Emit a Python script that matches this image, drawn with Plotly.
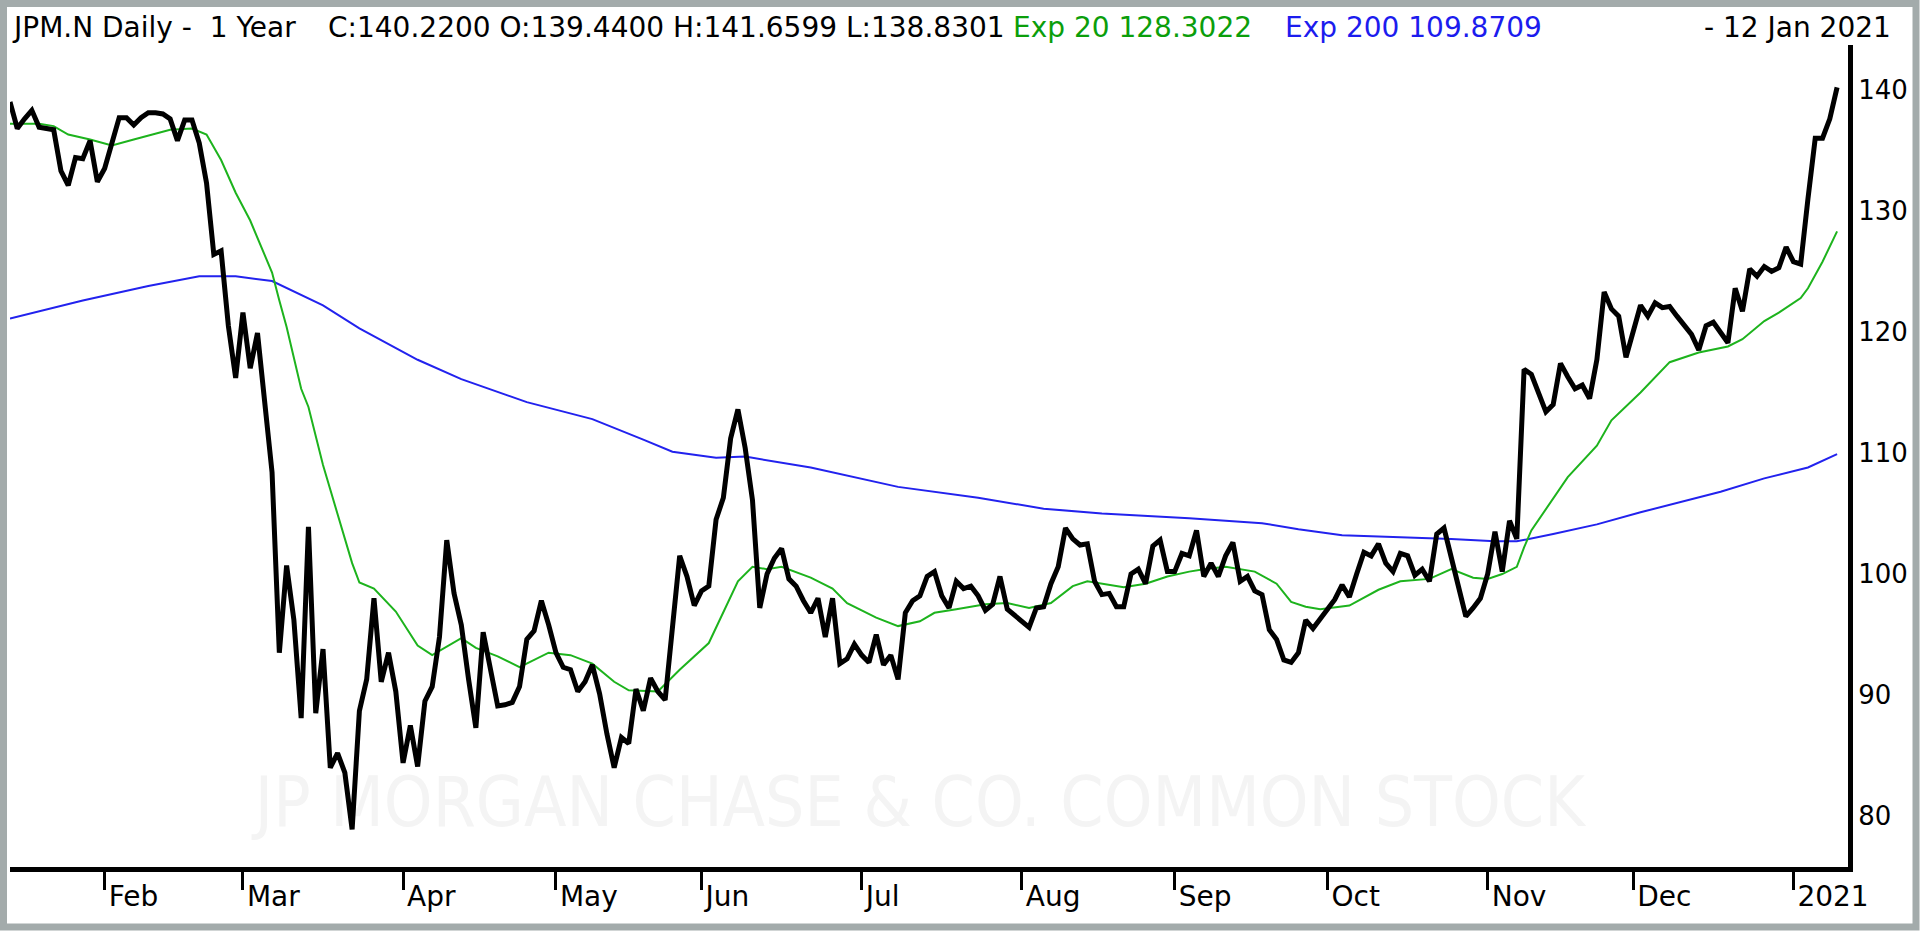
import pandas as pd
import plotly.graph_objects as go

# trading sessions 14 Jan 2020 - 12 Jan 2021 (NYSE holidays removed)
holidays = ["2020-01-20", "2020-02-17", "2020-04-10", "2020-05-25", "2020-07-03",
            "2020-09-07", "2020-11-26", "2020-12-25", "2021-01-01"]
days = pd.bdate_range("2020-01-14", "2021-01-12")
days = days[~days.isin(pd.to_datetime(holidays))]
dates = [d.strftime("%Y-%m-%d") for d in days]

# daily close
close = [
    139.0, 136.8, 137.6, 138.3, 136.9, 136.8, 136.7, 133.3, 132.1, 134.4,
    134.3, 135.8, 132.4, 133.5, 135.6, 137.7, 137.7, 137.1, 137.7, 138.1,
    138.1, 138.0, 137.6, 135.8, 137.5, 137.5, 135.6, 132.3, 126.4, 126.7,
    120.5, 116.2, 121.6, 117.0, 119.9, 114.4, 108.4, 93.5, 100.7, 96.2,
    88.1, 103.9, 88.5, 93.8, 84.0, 85.2, 83.6, 78.9, 88.7, 91.3,
    98.0, 91.1, 93.5, 90.3, 84.4, 87.5, 84.1, 89.5, 90.7, 94.8,
    102.8, 98.4, 95.8, 91.3, 87.3, 95.2, 92.1, 89.1, 89.2, 89.4,
    90.7, 94.6, 95.3, 97.8, 95.8, 93.5, 92.3, 92.1, 90.3, 91.1,
    92.5, 90.1, 86.8, 84.0, 86.5, 86.0, 90.5, 88.7, 91.4, 90.3,
    89.6, 95.8, 101.5, 99.8, 97.4, 98.6, 99.0, 104.5, 106.3, 111.2,
    113.6, 110.4, 106.1, 97.2, 100.0, 101.3, 102.1, 99.6, 99.0, 97.8,
    96.8, 98.0, 94.8, 98.0, 92.6, 93.0, 94.2, 93.3, 92.7, 95.0,
    92.5, 93.3, 91.3, 96.8, 97.8, 98.2, 99.8, 100.2, 98.2, 97.2,
    99.4, 98.8, 99.0, 98.2, 97.0, 97.5, 99.8, 97.1, 96.6, 96.2,
    95.6, 97.2, 97.3, 99.2, 100.6, 103.8, 102.9, 102.4, 102.5, 99.4,
    98.3, 98.4, 97.3, 97.3, 100.0, 100.4, 99.2, 102.3, 102.8, 100.2,
    100.2, 101.7, 101.5, 103.6, 99.8, 100.9, 99.8, 101.5, 102.6, 99.4,
    99.8, 98.6, 98.3, 95.4, 94.6, 92.9, 92.7, 93.5, 96.2, 95.5,
    96.3, 97.0, 97.9, 99.1, 98.1, 100.0, 101.8, 101.5, 102.5, 100.9,
    100.2, 101.7, 101.5, 99.9, 100.4, 99.4, 103.3, 103.8, 101.3, 98.6,
    96.5, 97.2, 98.0, 100.0, 103.5, 100.2, 104.4, 102.9, 116.9, 116.5,
    114.9, 113.4, 114.0, 117.4, 116.3, 115.3, 115.6, 114.5, 117.7, 123.3,
    121.9, 121.3, 117.9, 120.1, 122.2, 121.3, 122.4, 122.0, 122.1, 121.3,
    120.5, 119.8, 118.5, 120.5, 120.8, 119.9, 119.1, 123.6, 121.7, 125.2,
    124.6, 125.4, 125.0, 125.3, 127.0, 125.8, 125.6, 131.0, 136.0, 136.0,
    137.6, 140.2,
]

# 20-day exponential average, sampled at these sessions
ema20_at = [0, 4, 6, 8, 11, 14, 17, 22, 25, 27, 29, 31, 33, 36, 37, 38, 40, 41,
            43, 45, 47, 48, 50, 53, 56, 58, 62, 64, 67, 70, 74, 77, 80, 83, 85, 89,
            92, 96, 98, 100, 102, 104, 106, 110, 113, 115, 119, 122, 125, 127, 130,
            134, 137, 140, 143, 146, 148, 153, 156, 159, 162, 164, 167, 171, 174,
            176, 178, 180, 184, 188, 191, 195, 198, 201, 203, 205, 207, 208, 209,
            212, 214, 218, 220, 224, 228, 232, 236, 238, 241, 243, 246, 247, 249, 251]
ema20 = [137.2, 137.2, 137.0, 136.3, 135.9, 135.4, 135.9, 136.7, 136.8, 136.3,
         134.2, 131.5, 129.2, 124.9, 122.6, 120.4, 115.3, 113.8, 109.0, 104.9,
         100.9, 99.3, 98.8, 96.9, 94.1, 93.3, 94.7, 93.9, 93.2, 92.3, 93.5, 93.3,
         92.6, 91.1, 90.4, 90.3, 92.1, 94.3, 96.9, 99.4, 100.6, 100.4, 100.6, 99.7,
         98.8, 97.6, 96.4, 95.7, 96.1, 96.8, 97.1, 97.5, 97.6, 97.2, 97.6, 99.0,
         99.4, 98.9, 99.2, 99.8, 100.2, 100.4, 100.6, 100.2, 99.2, 97.7, 97.3,
         97.1, 97.4, 98.7, 99.4, 99.6, 100.4, 99.7, 99.6, 100.0, 100.6, 102.2,
         103.6, 106.2, 108.0, 110.6, 112.7, 115.0, 117.5, 118.3, 118.8, 119.4,
         120.9, 121.6, 122.8, 123.6, 125.8, 128.3]

# 200-day exponential average
ema200_at = [0, 10, 19, 26, 31, 36, 43, 48, 56, 62, 71, 80, 87, 91, 97, 101, 110,
             122, 133, 142, 150, 162, 172, 177, 183, 192, 198, 204, 207, 212, 218,
             224, 230, 235, 241, 247, 251]
ema200 = [121.1, 122.6, 123.8, 124.6, 124.6, 124.2, 122.2, 120.3, 117.7, 116.1,
          114.2, 112.8, 111.1, 110.1, 109.6, 109.7, 108.8, 107.2, 106.3, 105.4,
          105.0, 104.6, 104.2, 103.7, 103.2, 103.0, 102.9, 102.7, 102.7, 103.3,
          104.1, 105.1, 106.0, 106.8, 107.9, 108.8, 109.9]

tick_dates = ["2020-02-03", "2020-03-02", "2020-04-01", "2020-05-01", "2020-06-01",
              "2020-07-01", "2020-08-03", "2020-09-01", "2020-10-01", "2020-11-02",
              "2020-12-01", "2021-01-04"]
tick_text = ["Feb", "Mar", "Apr", "May", "Jun", "Jul", "Aug", "Sep", "Oct", "Nov",
             "Dec", "2021"]
price_ticks = [80, 90, 100, 110, 120, 130, 140]

W, H = 1920, 931
L, R, T, B = 10, 72, 45, 64
pw, ph = W - L - R, H - T - B


def px(x):
    return (x - L) / pw


def py(y):
    return (H - B - y) / ph


fig = go.Figure()
# faint watermark, drawn first so the price lines sit on top of it
fig.add_trace(go.Scatter(x=[dates[125]], y=[80.6], mode="text",
                         text=["JP MORGAN CHASE & CO. COMMON STOCK"],
                         textposition="middle center", hoverinfo="skip",
                         textfont=dict(family="DejaVu Sans Condensed", size=69,
                                       color="#f4f4f4")))
fig.add_trace(go.Scatter(x=[dates[i] for i in ema200_at], y=ema200, mode="lines",
                         line=dict(color="#2222ee", width=2), name="Exp 200"))
fig.add_trace(go.Scatter(x=[dates[i] for i in ema20_at], y=ema20, mode="lines",
                         line=dict(color="#1db31d", width=2), name="Exp 20"))
fig.add_trace(go.Scatter(x=dates, y=close, mode="lines",
                         line=dict(color="black", width=5), name="JPM.N"))

font = "DejaVu Sans"
head = [
    ("JPM.N Daily -\u00a0\u00a01 Year", 10, "left", "black"),
    ("C:140.2200 O:139.4400 H:141.6599 L:138.8301", 326, "left", "black"),
    ("Exp 20 128.3022", 1011, "left", "#0b9e0b"),
    ("Exp 200 109.8709", 1283, "left", "#1c1cee"),
    ("-\u00a012 Jan 2021", 1893, "right", "black"),
]
for text, x, anchor, col in head:
    fig.add_annotation(text=text, xref="paper", yref="paper", x=px(x), y=py(28),
                       xanchor=anchor, yanchor="middle", showarrow=False,
                       font=dict(family=font, size=28, color=col))

# grey window frame
fig.add_shape(type="rect", xref="paper", yref="paper", x0=px(3.5), x1=px(W - 4),
              y0=py(H - 4), y1=py(3.5), line=dict(color="#a3abab", width=7))

fig.update_xaxes(type="category", categoryorder="array", categoryarray=dates,
                 range=[0, 252.5], tickvals=tick_dates, ticktext=tick_text,
                 ticks="outside", ticklen=18, tickwidth=3, tickcolor="black",
                 ticklabelposition="outside right",
                 showline=True, linewidth=5, linecolor="black", showgrid=False,
                 zeroline=False, tickfont=dict(family=font, size=28, color="black"))
fig.update_yaxes(side="right", range=[75.8, 143.7], tickvals=price_ticks,
                 ticks="", showline=True, linewidth=5, linecolor="black",
                 showgrid=False, zeroline=False,
                 tickfont=dict(family=font, size=26, color="black"))

fig.update_layout(width=W, height=H, margin=dict(l=L, r=R, t=T, b=B),
                  paper_bgcolor="white", plot_bgcolor="white", showlegend=False)

# drop the page's default body margin so the figure fills the window
fig.write_html("out.html", config={"displayModeBar": False},
               post_script="document.body.style.margin='0';")
